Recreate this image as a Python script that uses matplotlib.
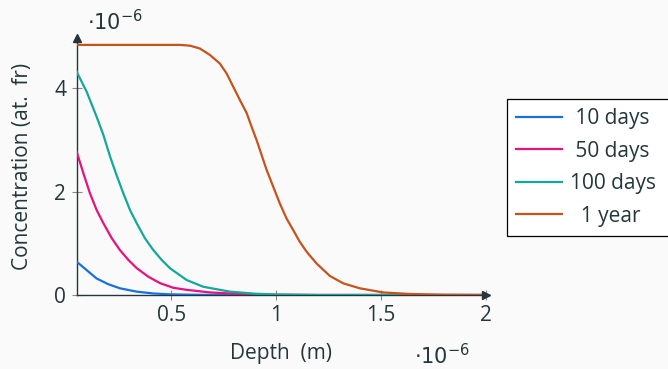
import numpy as np
import matplotlib
matplotlib.use("Agg")
import matplotlib.pyplot as plt

# depth in units of 1e-6 m, concentration in units of 1e-6 at. fr
x_10d = [0.05, 0.098, 0.145, 0.20, 0.256, 0.336, 0.415, 0.494, 0.60, 0.80, 1.0, 1.5, 2.0]
y_10d = [0.645, 0.48, 0.32, 0.21, 0.13, 0.065, 0.03, 0.013, 0.005, 0.0, 0.0, 0.0, 0.0]

x_50d = [0.05, 0.082, 0.113, 0.145, 0.177, 0.217, 0.256, 0.296, 0.336, 0.391, 0.447,
         0.51, 0.574, 0.685, 0.78, 0.90, 1.0, 1.2, 1.5, 2.0]
y_50d = [2.77, 2.355, 1.97, 1.645, 1.39, 1.10, 0.87, 0.68, 0.52, 0.355, 0.23,
         0.14, 0.10, 0.05, 0.03, 0.012, 0.005, 0.0, 0.0, 0.0]

x_100d = [0.05, 0.098, 0.145, 0.177, 0.209, 0.240, 0.272, 0.304, 0.336, 0.375, 0.415,
          0.455, 0.494, 0.574, 0.653, 0.78, 0.90, 1.0, 1.2, 1.5, 2.0]
y_100d = [4.32, 3.93, 3.45, 3.10, 2.68, 2.32, 1.97, 1.645, 1.39, 1.10, 0.87,
          0.68, 0.52, 0.29, 0.16, 0.065, 0.025, 0.01, 0.0, 0.0, 0.0]

x_1y = [0.05, 0.30, 0.542, 0.590, 0.637, 0.685, 0.732, 0.764, 0.796, 0.828, 0.860,
        0.883, 0.907, 0.931, 0.955, 0.986, 1.018, 1.050, 1.081, 1.113, 1.145,
        1.193, 1.256, 1.32, 1.399, 1.51, 1.637, 1.80, 2.0]
y_1y = [4.84, 4.84, 4.84, 4.825, 4.77, 4.645, 4.48, 4.29, 4.03, 3.77, 3.52,
        3.26, 3.00, 2.71, 2.42, 2.10, 1.77, 1.48, 1.26, 1.03, 0.84,
        0.61, 0.37, 0.226, 0.13, 0.05, 0.02, 0.004, 0.0]

labels = [" 10 days", " 50 days", "100 days  ", "  1 year"]
colors = ["#1a6fe0", "#e8117f", "#12a89a", "#c6531c"]

fg = "#23373b"
bg = "#fafafa"
fs = 15

plt.rcParams["font.family"] = ["Open Sans", "DejaVu Sans"]
plt.rcParams["mathtext.fontset"] = "dejavusans"

fig = plt.figure(figsize=(6.68, 3.69), dpi=100, facecolor=bg)
ax = fig.add_axes([0.1148, 0.2005, 0.6127, 0.696])
ax.set_facecolor(bg)

series = [(x_10d, y_10d), (x_50d, y_50d), (x_100d, y_100d), (x_1y, y_1y)]
for (xs, ys), lab, c in zip(series, labels, colors):
    ax.plot(xs, ys, color=c, lw=1.6, label=lab, zorder=3)

ax.set_xlim(0.05, 2.0)
ax.set_ylim(0, 4.97)
ax.set_xticks([0.5, 1, 1.5, 2])
ax.set_xticklabels(["0.5", "1", "1.5", "2"])
ax.set_yticks([0, 2, 4])

for s in ["top", "right"]:
    ax.spines[s].set_visible(False)
for s in ["left", "bottom"]:
    ax.spines[s].set_color(fg)
    ax.spines[s].set_linewidth(1.0)

ax.tick_params(direction="inout", length=7, width=0.8, color="#8a8a8a",
               labelcolor=fg, labelsize=fs, pad=4)

# axis arrow heads
ax.plot(1, 0, marker=">", ms=6, color=fg, transform=ax.transAxes, clip_on=False, zorder=4)
ax.plot(0, 1, marker="^", ms=6, color=fg, transform=ax.transAxes, clip_on=False, zorder=4)

ax.set_xlabel("Depth  (m)", fontsize=fs, color=fg, labelpad=12)
ax.set_ylabel("Concentration (at.  fr)", fontsize=fs, color=fg, labelpad=15)

fig.text(0.130, 0.919, r"$\cdot 10^{-6}$", fontsize=15, color=fg, ha="left", va="baseline")
fig.text(0.620, 0.014, r"$\cdot 10^{-6}$", fontsize=15, color=fg, ha="left", va="baseline")

leg = ax.legend(loc="upper left", bbox_to_anchor=(0.759, 0.732),
                bbox_transform=fig.transFigure, borderaxespad=0,
                fancybox=False, frameon=True, edgecolor="black", facecolor="white",
                fontsize=fs, handlelength=2.2, handletextpad=0.35,
                labelspacing=0.55, borderpad=0.45)
leg.get_frame().set_linewidth(0.9)
leg.get_frame().set_alpha(1)
for t in leg.get_texts():
    t.set_color(fg)

fig.savefig("out.png", dpi=100, facecolor=bg)
